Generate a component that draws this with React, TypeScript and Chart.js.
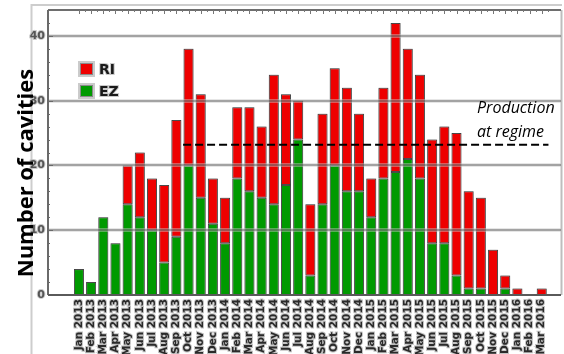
import React, { useEffect, useRef } from 'react';
import { Chart, registerables } from 'chart.js';

Chart.register(...registerables);

// Monthly cavity counts, Jan 2013 – Mar 2016
const months = [
  'Jan 2013', 'Feb 2013', 'Mar 2013', 'Apr 2013', 'May 2013', 'Jun 2013',
  'Jul 2013', 'Aug 2013', 'Sep 2013', 'Oct 2013', 'Nov 2013', 'Dec 2013',
  'Jan 2014', 'Feb 2014', 'Mar 2014', 'Apr 2014', 'May 2014', 'Jun 2014',
  'Jul 2014', 'Aug 2014', 'Sep 2014', 'Oct 2014', 'Nov 2014', 'Dec 2014',
  'Jan 2015', 'Feb 2015', 'Mar 2015', 'Apr 2015', 'May 2015', 'Jun 2015',
  'Jul 2015', 'Aug 2015', 'Sep 2015', 'Oct 2015', 'Nov 2015', 'Dec 2015',
  'Jan 2016', 'Feb 2016', 'Mar 2016',
];

const ezCounts = [
  4, 2, 12, 8, 14, 12, 10, 5, 9, 20, 15, 11,
  8, 18, 16, 15, 14, 17, 24, 3, 14, 20, 16, 16,
  12, 18, 19, 21, 18, 8, 8, 3, 1, 1, 0, 1,
  0, 0, 0,
];

const riCounts = [
  0, 0, 0, 0, 6, 10, 8, 12, 18, 18, 16, 7,
  7, 11, 13, 11, 20, 14, 6, 11, 14, 15, 16, 12,
  6, 14, 23, 17, 16, 16, 18, 22, 15, 14, 7, 2,
  1, 0, 1,
];

const yTicks = [0, 10, 20, 30, 40];

// Production-at-regime reference level and its month span (x in month index units)
const productionLevel = 23.2;
const productionFrom = 8.55;
const productionTo = 38.55;

const RED = '#ee0000';
const GREEN = '#009a00';

const decorPlugin = {
  id: 'decor',
  beforeDraw(chart: any) {
    const { ctx, chartArea: a } = chart;
    ctx.save();
    // outer light frame
    ctx.strokeStyle = '#cdcdcd';
    ctx.lineWidth = 2;
    ctx.beginPath();
    ctx.moveTo(31.5, 354);
    ctx.lineTo(31.5, 5);
    ctx.lineTo(562, 5);
    ctx.stroke();
    // right border of the plot
    ctx.strokeStyle = '#bdbdbd';
    ctx.beginPath();
    ctx.moveTo(a.right + 0.5, a.top);
    ctx.lineTo(a.right + 0.5, a.bottom);
    ctx.stroke();
    ctx.restore();
  },
  beforeDatasetDraw(chart: any, args: any) {
    if (args.meta.type === 'bar') {
      const ctx = chart.ctx;
      ctx.save();
      ctx.shadowColor = 'rgba(120,120,120,0.8)';
      ctx.shadowBlur = 3;
    }
  },
  afterDatasetDraw(chart: any, args: any) {
    if (args.meta.type === 'bar') chart.ctx.restore();
  },
  afterDatasetsDraw(chart: any) {
    const { ctx, chartArea: a, scales } = chart;
    const y = scales.y;
    const x = scales.x;
    ctx.save();
    // horizontal grid over the bars
    for (const v of yTicks) {
      if (v === 0) continue;
      const py = Math.round(y.getPixelForValue(v));
      ctx.strokeStyle = 'rgba(200,200,200,0.45)';
      ctx.lineWidth = 4;
      ctx.beginPath();
      ctx.moveTo(a.left, py);
      ctx.lineTo(a.right, py);
      ctx.stroke();
      ctx.strokeStyle = 'rgba(70,70,70,0.42)';
      ctx.lineWidth = 2;
      ctx.beginPath();
      ctx.moveTo(a.left, py);
      ctx.lineTo(a.right, py);
      ctx.stroke();
    }
    // top border with month ticks
    ctx.strokeStyle = '#6e6e6e';
    ctx.lineWidth = 2;
    ctx.beginPath();
    ctx.moveTo(a.left, a.top);
    ctx.lineTo(a.right, a.top);
    ctx.stroke();
    ctx.lineWidth = 1;
    ctx.strokeStyle = '#777';
    months.forEach((_, i) => {
      const px = Math.round(x.getPixelForValue(i)) + 0.5;
      ctx.beginPath();
      ctx.moveTo(px, a.top);
      ctx.lineTo(px, a.top + 4);
      ctx.stroke();
      const hx = Math.round(x.getPixelForValue(i + 0.5)) + 0.5;
      ctx.beginPath();
      ctx.moveTo(hx, a.top);
      ctx.lineTo(hx, a.top + 2);
      ctx.stroke();
    });
    // left axis with small ticks
    ctx.strokeStyle = '#6a6a6a';
    ctx.lineWidth = 2;
    ctx.beginPath();
    ctx.moveTo(a.left, a.top);
    ctx.lineTo(a.left, a.bottom);
    ctx.stroke();
    ctx.lineWidth = 1;
    for (let v = 0; v <= 44; v += 2) {
      const py = Math.round(y.getPixelForValue(v)) + 0.5;
      const len = v % 10 === 0 ? 5 : 2;
      ctx.beginPath();
      ctx.moveTo(a.left, py);
      ctx.lineTo(a.left + len, py);
      ctx.stroke();
    }
    // bottom axis
    ctx.strokeStyle = '#5a5a5a';
    ctx.lineWidth = 2;
    ctx.beginPath();
    ctx.moveTo(a.left, a.bottom);
    ctx.lineTo(a.right, a.bottom);
    ctx.stroke();
    ctx.restore();
  },
  afterDraw(chart: any) {
    const { ctx } = chart;
    ctx.save();
    // axis title
    ctx.translate(33, 173);
    ctx.rotate(-Math.PI / 2);
    ctx.font = 'bold 22px "Open Sans", "DejaVu Sans", sans-serif';
    ctx.fillStyle = '#000';
    ctx.textAlign = 'center';
    ctx.textBaseline = 'alphabetic';
    ctx.fillText('Number of cavities', 0, 0);
    ctx.restore();

    // legend
    ctx.save();
    const items = [
      { label: 'RI', color: RED, y: 63 },
      { label: 'EZ', color: GREEN, y: 85 },
    ];
    for (const it of items) {
      ctx.fillStyle = 'rgba(190,190,190,0.8)';
      ctx.fillRect(78, it.y - 2, 17, 16);
      ctx.fillStyle = it.color;
      ctx.fillRect(80, it.y, 13, 12);
      ctx.strokeStyle = '#8a8a8a';
      ctx.lineWidth = 1;
      ctx.strokeRect(80.5, it.y + 0.5, 12, 11);
      ctx.font = 'bold 14px "DejaVu Sans", sans-serif';
      ctx.textAlign = 'left';
      ctx.textBaseline = 'middle';
      ctx.lineWidth = 2;
      ctx.strokeStyle = 'rgba(180,180,180,0.7)';
      ctx.strokeText(it.label, 99, it.y + 7);
      ctx.fillStyle = '#1a1a1a';
      ctx.fillText(it.label, 99, it.y + 7);
    }
    ctx.restore();

    // annotation for the dashed reference line
    ctx.save();
    ctx.font = 'italic 16px "Open Sans", sans-serif';
    ctx.fillStyle = '#000';
    ctx.textAlign = 'left';
    ctx.textBaseline = 'alphabetic';
    ctx.fillText('Production', 477, 113);
    ctx.fillText('at regime', 477, 137);
    ctx.restore();
  },
};

export default function App() {
  const canvasRef = useRef<HTMLCanvasElement | null>(null);

  useEffect(() => {
    const canvas = canvasRef.current;
    if (!canvas) return;
    const chart = new Chart(canvas, {
      type: 'bar',
      data: {
        datasets: [
          {
            type: 'line',
            label: 'Production at regime',
            data: [
              { x: productionFrom, y: productionLevel },
              { x: productionTo, y: productionLevel },
            ],
            borderColor: '#000',
            borderWidth: 2,
            borderDash: [8, 4],
            pointRadius: 0,
            fill: false,
            order: 0,
          } as any,
          {
            label: 'EZ',
            data: ezCounts.map((v, i) => ({ x: i, y: v })),
            backgroundColor: GREEN,
            borderColor: '#3c3c3c',
            borderWidth: 1,
            borderSkipped: false,
            stack: 'cavities',
            barPercentage: 0.82,
            categoryPercentage: 1,
            order: 1,
          },
          {
            label: 'RI',
            data: riCounts.map((v, i) => ({ x: i, y: v })),
            backgroundColor: RED,
            borderColor: '#3c3c3c',
            borderWidth: 1,
            borderSkipped: false,
            stack: 'cavities',
            barPercentage: 0.82,
            categoryPercentage: 1,
            order: 1,
          },
        ],
      },
      options: {
        animation: false,
        responsive: false,
        devicePixelRatio: 1,
        layout: { padding: { top: 10, right: 3, left: 0, bottom: 0 } },
        plugins: {
          legend: { display: false },
          tooltip: { enabled: false },
        },
        scales: {
          x: {
            type: 'linear',
            min: -2,
            max: 39.04,
            stacked: true,
            grid: { display: false, drawTicks: false },
            border: { display: false },
            afterBuildTicks: (s: any) => {
              s.ticks = months.map((_, i) => ({ value: i }));
            },
            afterFit: (s: any) => {
              s.height = 59;
            },
            ticks: {
              autoSkip: false,
              maxRotation: 90,
              minRotation: 90,
              padding: 4,
              color: '#2a2a2a',
              textStrokeColor: 'rgba(170,170,170,0.7)',
              textStrokeWidth: 2,
              font: { family: '"DejaVu Sans", sans-serif', weight: 'bold', size: 10.5 },
              callback: (v: any) => months[v] ?? '',
            },
          } as any,
          y: {
            min: 0,
            max: 44,
            stacked: true,
            grid: { display: false, drawTicks: false },
            border: { display: false },
            afterBuildTicks: (s: any) => {
              s.ticks = yTicks.map((v) => ({ value: v }));
            },
            afterFit: (s: any) => {
              s.width = 48;
            },
            ticks: {
              padding: 3,
              color: '#555',
              textStrokeColor: 'rgba(180,180,180,0.7)',
              textStrokeWidth: 2,
              font: { family: '"DejaVu Sans", sans-serif', weight: 'bold', size: 11 },
              callback: (v: any) => String(v),
            },
          } as any,
        },
      },
      plugins: [decorPlugin],
    });
    return () => chart.destroy();
  }, []);

  return (
    <div style={{ position: 'fixed', left: 0, top: 0, width: 564, height: 354, background: '#fff' }}>
      <canvas ref={canvasRef} width={564} height={354} style={{ width: 564, height: 354, display: 'block' }} />
    </div>
  );
}
